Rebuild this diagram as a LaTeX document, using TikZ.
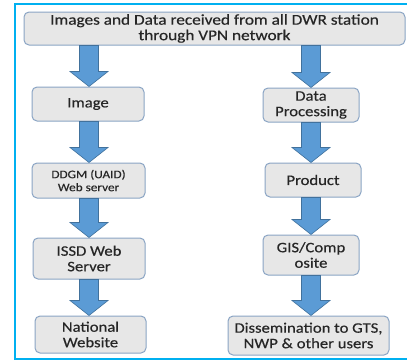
\documentclass[tikz,border=0pt]{standalone}
\usepackage{fontspec}
\setmainfont{Carlito}[FakeStretch=1.15, FakeBold=0.4]
\usetikzlibrary{calc}

\definecolor{framecyan}{HTML}{00B0F0}
\definecolor{boxfill}{HTML}{E7E7E7}
\definecolor{boxline}{HTML}{8AA4C4}
\definecolor{arrowfill}{HTML}{5B9BD5}
\definecolor{arrowline}{HTML}{41719C}

\tikzset{
  stagebox/.style={draw=boxline, line width=1pt, fill=boxfill, rounded corners=5pt,
    align=center, inner sep=1pt, text=black!85,
    font=\fontsize{14.5}{15.5}\selectfont},
  smalltext/.style={font=\fontsize{11.5}{13}\selectfont},
  fatarrow/.style={fill=arrowfill, draw=arrowline, line width=0.6pt, line join=miter}
}

% block arrow pointing down from node #1 to node #2 along the column coordinate #3
\newcommand{\blockarrow}[3]{%
  \draw[fatarrow] let \p1=(#1.south -| #3), \p2=(#2.north -| #3) in
    (\x1-9.5pt,\y1) -- (\x1+9.5pt,\y1) -- (\x1+9.5pt,\y2+15pt) -- (\x1+19pt,\y2+15pt)
    -- (\x1,\y2) -- (\x1-19pt,\y2+15pt) -- (\x1-9.5pt,\y2+15pt) -- cycle;}

\begin{document}
\begin{tikzpicture}[x=1pt,y=-1pt]
\useasboundingbox (0,0) rectangle (407,362);

% outer frame (open towards the right edge)
\draw[framecyan, line width=2pt] (407,3.5) -- (15,3.5) -- (15,359) -- (407,359);

% column axes for the arrows
\coordinate (L) at (89,0);
\coordinate (R) at (311,0);

% stages
\node[stagebox, minimum width=381pt, minimum height=33pt,
  font=\fontsize{15}{15.5}\selectfont] (top) at (214.5,28.5)
  {Images and Data received from all DWR station\\through VPN network};

\node[stagebox, minimum width=112pt, minimum height=34pt] (img) at (88,104) {Image};
\node[stagebox, smalltext, minimum width=113pt, minimum height=35pt] (ddgm) at (88.5,180.5)
  {DDGM (UAID)\\Web server};
\node[stagebox, minimum width=112pt, minimum height=41pt] (issd) at (89,258.5)
  {ISSD Web\\Server};
\node[stagebox, minimum width=111pt, minimum height=37pt] (natl) at (90.5,334.5)
  {National\\Website};

\node[stagebox, minimum width=96pt, minimum height=34pt] (dp) at (311,105)
  {Data\\Processing};
\node[stagebox, minimum width=96pt, minimum height=34pt] (prod) at (313,180) {Product};
\node[stagebox, minimum width=96pt, minimum height=40pt] (gis) at (311,255)
  {GIS/Comp\\osite};
\node[stagebox, minimum width=161pt, minimum height=39pt] (diss) at (308.5,335.5)
  {Dissemination to GTS,\\NWP \& other users};

% flow arrows
\blockarrow{top}{img}{L}
\blockarrow{img}{ddgm}{L}
\blockarrow{ddgm}{issd}{L}
\blockarrow{issd}{natl}{L}

\blockarrow{top}{dp}{R}
\blockarrow{dp}{prod}{R}
\blockarrow{prod}{gis}{R}
\blockarrow{gis}{diss}{R}
\end{tikzpicture}
\end{document}
